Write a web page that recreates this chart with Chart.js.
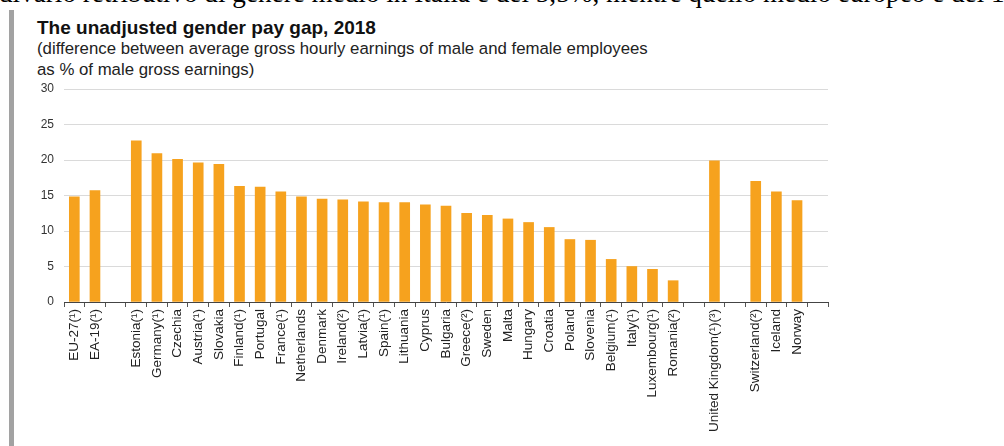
<!DOCTYPE html>
<html>
<head>
<meta charset="utf-8">
<script src="https://cdn.jsdelivr.net/npm/chart.js@4.4.1/dist/chart.umd.min.js"></script>
<style>
  html, body { margin: 0; padding: 0; background: #fff; }
  body { width: 1004px; height: 446px; position: relative; overflow: hidden; }
  #lead {
    position: absolute; left: -1px; top: -20px; white-space: nowrap;
    font-family: "Liberation Serif", serif; font-size: 27.2px; line-height: 27px; color: #000;
  }
  #side { position: absolute; left: 9px; top: 10px; width: 5px; bottom: 0; background: #a2a2a2; }
  #title {
    position: absolute; left: 37px; top: 17px;
    font-family: "Liberation Sans", Arial, sans-serif; font-weight: bold; font-size: 19px; line-height: 22px; color: #111;
  }
  #subtitle {
    position: absolute; left: 37px; top: 38px;
    font-family: "Liberation Sans", Arial, sans-serif; font-size: 16.8px; line-height: 21px; color: #222;
  }
  canvas { position: absolute; left: 0; top: 0; }
</style>
</head>
<body>
<div id="lead">divario retributivo di genere medio in Italia è del 5,5%, mentre quello medio europeo è del 14,8%</div>
<div id="side"></div>
<div id="title">The unadjusted gender pay gap, 2018</div>
<div id="subtitle">(difference between average gross hourly earnings of male and female employees<br>as % of male gross earnings)</div>
<canvas id="chart" width="1004" height="446"></canvas>

<script>
// countries (empty strings are the gaps between groups)
const countries = [
  'EU-27(¹)', 'EA-19(¹)', '',
  'Estonia(¹)', 'Germany(¹)', 'Czechia', 'Austria(¹)', 'Slovakia', 'Finland(¹)', 'Portugal',
  'France(¹)', 'Netherlands', 'Denmark', 'Ireland(²)', 'Latvia(¹)', 'Spain(¹)', 'Lithuania',
  'Cyprus', 'Bulgaria', 'Greece(²)', 'Sweden', 'Malta', 'Hungary', 'Croatia', 'Poland',
  'Slovenia', 'Belgium(¹)', 'Italy(¹)', 'Luxembourg(¹)', 'Romania(²)', '',
  'United Kingdom(¹)(³)', '',
  'Switzerland(²)', 'Iceland', 'Norway', ''
];

// gender pay gap, % of male gross earnings
const payGap = [
  14.8, 15.7, null,
  22.7, 20.9, 20.1, 19.6, 19.4, 16.3, 16.2,
  15.5, 14.8, 14.5, 14.4, 14.1, 14.0, 14.0,
  13.7, 13.5, 12.5, 12.2, 11.7, 11.2, 10.5, 8.8,
  8.7, 6.0, 5.0, 4.6, 3.0, null,
  19.9, null,
  17.0, 15.5, 14.3, null
];

const yMin = 0;
const yMax = 30;
const yStep = 5;

const ctx = document.getElementById('chart').getContext('2d');

new Chart(ctx, {
  type: 'bar',
  data: {
    labels: countries,
    datasets: [
      {
        data: payGap,
        backgroundColor: '#F6A21E',
        borderWidth: 0,
        barThickness: 10
      }
    ]
  },
  options: {
    responsive: false,
    animation: false,
    layout: {
      padding: { left: 20, right: 176, top: 89, bottom: 0 }
    },
    plugins: {
      legend: { display: false },
      tooltip: { enabled: false }
    },
    scales: {
      x: {
        grid: {
          offset: true,
          drawOnChartArea: false,
          drawTicks: true,
          tickLength: 5,
          color: '#555'
        },
        border: { display: true, color: '#444', width: 1 },
        ticks: {
          autoSkip: false,
          maxRotation: 90,
          minRotation: 90,
          padding: 2,
          color: '#222',
          font: { family: 'Liberation Sans', size: 13.5 }
        },
        afterFit: (scale) => { scale.height = 144; }
      },
      y: {
        min: yMin,
        max: yMax,
        grid: { color: '#dadada', drawTicks: false },
        border: { display: false },
        ticks: {
          stepSize: yStep,
          padding: 10,
          color: '#333',
          font: { family: 'Liberation Sans', size: 12 }
        },
        afterFit: (scale) => { scale.width = 44; }
      }
    }
  }
});
</script>
</body>
</html>
